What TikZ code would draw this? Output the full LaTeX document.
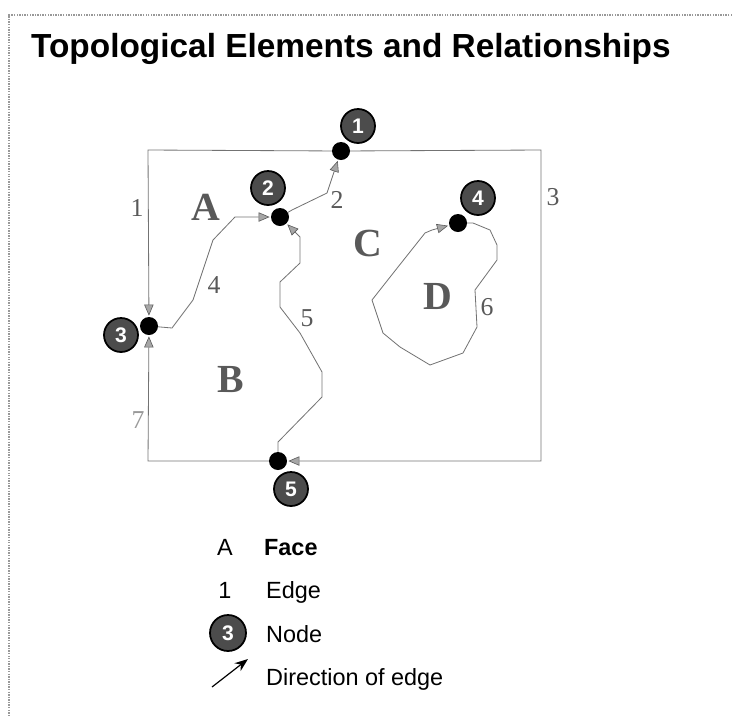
\documentclass[tikz,border=0pt]{standalone}
\usepackage{fontspec}
\setmainfont{Liberation Serif}
\setsansfont{Liberation Sans}
\usetikzlibrary{arrows.meta}

\begin{document}
\begin{tikzpicture}[x=0.03cm,y=-0.03cm,
		dot/.style={circle,fill=black,inner sep=0pt,minimum size=0.54cm},
		tag/.style={circle,draw=black,line width=1.5pt,fill=black!70,text=white,inner sep=0pt,minimum size=1.02cm,font=\sffamily\bfseries\fontsize{18}{18}\selectfont},
		edge/.style={draw=black!55,line width=0.7pt,shorten >=1pt,-{Triangle[length=0.33cm,width=0.28cm,fill=black!35,color=black!65,line width=0.5pt]}},
		face/.style={text=black!65,font=\bfseries\fontsize{34}{34}\selectfont},
		elab/.style={text=black!65,font=\fontsize{22}{22}\selectfont},
		legend/.style={anchor=base west,font=\sffamily\fontsize{20}{20}\selectfont}]
		\useasboundingbox (0,0) rectangle (732,715);
		\draw[black!40,densely dotted,line width=1.2pt] (732,15) -- (9,15) -- (9,715);
		\node[anchor=base west,font=\sffamily\bfseries\fontsize{28.5}{28.5}\selectfont] (title) at (27,57) {Topological Elements and Relationships};
		
		% frame corners
		\coordinate (tl) at (148,150);
		\coordinate (tr) at (541,150);
		\coordinate (br) at (541,461);
		\coordinate (bl) at (148,461);
		
		\node[dot] (n1) at (341,151) {};
		\node[dot] (n2) at (280,217) {};
		\node[dot] (n3) at (149,326) {};
		\node[dot] (n4) at (458,223) {};
		\node[dot] (n5) at (278,461) {};
		
		\node[tag] (t1) at (358,126) {1};
		\node[tag] (t2) at (268,188) {2};
		\node[tag] (t3) at (121,335) {3};
		\node[tag] (t4) at (478,198) {4};
		\node[tag] (t5) at (291,489) {5};
		
		% edges
		\draw[edge] (n1) -- (tl) -- (n3);
		\draw[edge] (n2) -- (292,210) -- (327,193) -- (n1);
		\draw[edge] (n1) -- (tr) -- (br) -- (n5);
		\draw[edge] (n3) -- (172,328) -- (193,300) -- (213,240) -- (235,217) -- (n2);
		\draw[edge] (n5) -- (278,442) -- (322,397) -- (322,372) -- (300,333)
			-- (280,307) -- (280,282) -- (300,263) -- (300,237) -- (n2);
		\draw[edge] (n4) -- (473,223) -- (490,230) -- (497,245) -- (497,260) -- (475,290) -- (477,327)
			-- (463,353) -- (430,365) -- (400,347) -- (383,333) -- (372,300) -- (398,267)
			-- (425,233) -- (432,230) -- (n4);
		\draw[edge] (n5) -- (bl) -- (n3);
		
		\node[elab] (e1) at (137,208) {1};
		\node[elab] (e2) at (337,200) {2};
		\node[elab] (e3) at (553,197) {3};
		\node[elab] (e4) at (214,285) {4};
		\node[elab] (e5) at (307,318) {5};
		\node[elab] (e6) at (487,307) {6};
		\node[elab,text=black!40] (e7) at (138,420) {7};
		
		\node[face] (fa) at (206,207) {A};
		\node[face] (fb) at (231,380) {B};
		\node[face] (fc) at (368,243) {C};
		\node[face] (fd) at (438,296) {D};
		
		% legend
		\node[font=\sffamily\fontsize{20}{20}\selectfont,anchor=base] (la) at (225,555) {A};
		\node[legend,font=\sffamily\bfseries\fontsize{20}{20}\selectfont] (lface) at (260,555) {Face};
		\node[font=\sffamily\fontsize{20}{20}\selectfont,anchor=base] (l1) at (225,598) {1};
		\node[legend] (ledge) at (262,598) {Edge};
		\node[tag,minimum size=1.08cm] (l3) at (228,633) {3};
		\node[legend] (lnode) at (262,642) {Node};
		\coordinate (ltail) at (212,687);
		\coordinate (lhead) at (248,659);
		\draw[line width=1pt,-{Stealth[length=0.4cm,width=0.3cm]}] (ltail) -- (lhead);
		\node[legend] (ldir) at (262,685) {Direction of edge};
	\end{tikzpicture}
\end{document}
